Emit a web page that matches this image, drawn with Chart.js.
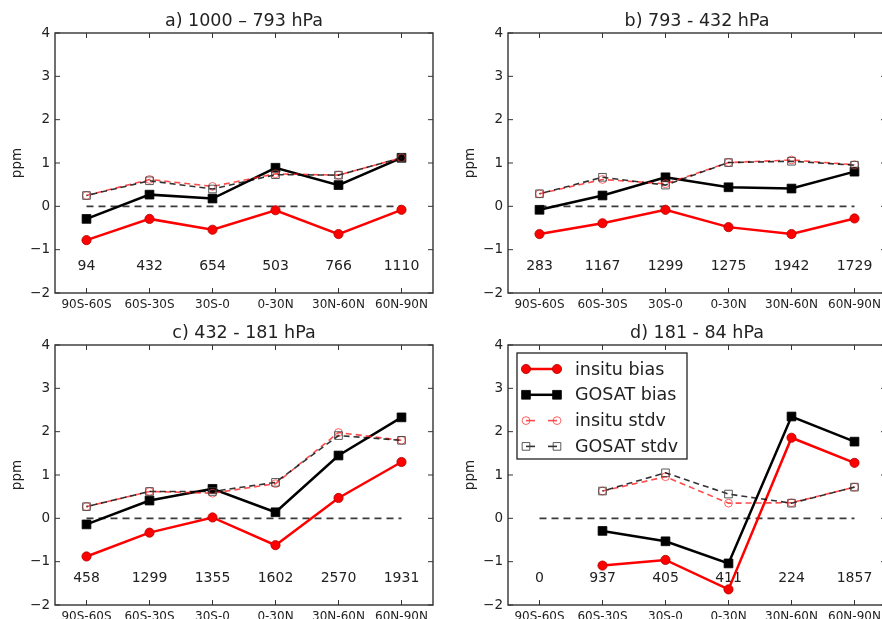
<!DOCTYPE html>
<html><head><meta charset="utf-8">
<script src="https://cdn.jsdelivr.net/npm/chart.js@4"></script>
<style>
html,body{margin:0;padding:0;background:#fff;overflow:hidden;width:882px;height:619px;}
.p{position:absolute;width:441px;height:310px;}
canvas{display:block;}
</style></head><body>
<div class="p" style="left:0;top:0"><canvas id="ca" width="441" height="310"></canvas></div>
<div class="p" style="left:453px;top:0"><canvas id="cb" width="441" height="310"></canvas></div>
<div class="p" style="left:0;top:312px"><canvas id="cc" width="441" height="310"></canvas></div>
<div class="p" style="left:453px;top:312px"><canvas id="cd" width="441" height="310"></canvas></div>
<script>
// ---------- data ----------
const categories = ['90S-60S','60S-30S','30S-0','0-30N','30N-60N','60N-90N'];
const titles = ['a) 1000 \u2013 793 hPa','b) 793 - 432 hPa','c) 432 - 181 hPa','d) 181 - 84 hPa'];
const seriesNames = ['insitu bias','GOSAT bias','insitu stdv','GOSAT stdv'];
const yTicks = [-2,-1,0,1,2,3,4];
const zeroLine = [0,0,0,0,0,0];

const insituBiasA = [-0.78,-0.29,-0.54,-0.09,-0.64,-0.08];
const gosatBiasA  = [-0.29,0.27,0.18,0.89,0.49,1.12];
const insituStdvA = [0.25,0.62,0.46,0.75,0.72,1.12];
const gosatStdvA  = [0.25,0.59,0.40,0.73,0.72,1.12];
const countsA = [94,432,654,503,766,1110];

const insituBiasB = [-0.64,-0.39,-0.08,-0.48,-0.64,-0.28];
const gosatBiasB  = [-0.08,0.25,0.67,0.44,0.41,0.80];
const insituStdvB = [0.29,0.62,0.52,1.01,1.07,0.96];
const gosatStdvB  = [0.29,0.67,0.49,1.01,1.04,0.95];
const countsB = [283,1167,1299,1275,1942,1729];

const insituBiasC = [-0.88,-0.33,0.02,-0.62,0.47,1.30];
const gosatBiasC  = [-0.14,0.41,0.68,0.14,1.45,2.33];
const insituStdvC = [0.27,0.62,0.58,0.80,1.98,1.80];
const gosatStdvC  = [0.27,0.62,0.62,0.83,1.91,1.80];
const countsC = [458,1299,1355,1602,2570,1931];

const insituBiasD = [null,-1.09,-0.96,-1.64,1.86,1.28];
const gosatBiasD  = [null,-0.29,-0.53,-1.04,2.35,1.77];
const insituStdvD = [null,0.63,0.96,0.35,0.36,0.72];
const gosatStdvD  = [null,0.63,1.05,0.56,0.35,0.72];
const countsD = [0,937,405,411,224,1857];

const COUNT_LEVEL = -1.38;

// ---------- styles ----------
const FONT = 'DejaVu Sans';
const TXT = '#222';
const STY = [
  {color:'#ff0000', fill:'#ff0000', edge:'#b00000', style:'circle', r:4.6, lw:2.5, dash:[], bw:0.8},
  {color:'#000000', fill:'#000000', edge:'#000000', style:'rect', r:6.2, lw:2.5, dash:[], bw:0.8},
  {color:'rgba(255,30,30,0.8)', fill:'rgba(255,255,255,0)', edge:'rgba(255,60,60,0.8)', style:'circle', r:3.9, lw:1.6, dash:[6,4], bw:1},
  {color:'rgba(0,0,0,0.8)', fill:'rgba(255,255,255,0)', edge:'rgba(60,60,60,0.85)', style:'rect', r:5.4, lw:1.6, dash:[6,4], bw:1}
];

function mkDatasets(series){
  const ds = [{data:zeroLine, borderColor:'#3a3a3a', borderWidth:1.7, borderDash:[7,5], pointRadius:0, order:10}];
  series.forEach((d,i)=>{
    const s = STY[i];
    ds.push({label:seriesNames[i], data:d, borderColor:s.color, backgroundColor:s.fill,
      borderWidth:s.lw, borderDash:s.dash, borderDashOffset: i===3?5:0,
      pointStyle:s.style, pointRadius:s.r, pointBorderColor:s.edge, pointBackgroundColor:s.fill,
      pointBorderWidth:s.bw, spanGaps:false, tension:0, order:4-i});
  });
  return ds;
}

function line(ctx,x1,y1,x2,y2){ctx.beginPath();ctx.moveTo(x1,y1);ctx.lineTo(x2,y2);ctx.stroke();}

function drawMarker(ctx, s, x, y){
  ctx.save();
  ctx.setLineDash([]);
  ctx.lineWidth = s.bw;
  ctx.strokeStyle = s.edge; ctx.fillStyle = s.fill;
  ctx.beginPath();
  if (s.style==='circle') ctx.arc(x,y,s.r,0,Math.PI*2);
  else { const h = s.r*Math.SQRT1_2; ctx.rect(x-h,y-h,2*h,2*h); }
  ctx.fill(); ctx.stroke();
  ctx.restore();
}

const panelPlugin = {
  id:'panel',
  beforeDatasetsDraw(chart, args, opts){
    const {ctx, scales:{x,y}} = chart;
    ctx.save();
    ctx.fillStyle = TXT; ctx.font = '14px "'+FONT+'"';
    ctx.textAlign='center'; ctx.textBaseline='middle';
    opts.counts.forEach((c,i)=>{ ctx.fillText(String(c), x.getPixelForValue(i), y.getPixelForValue(COUNT_LEVEL)); });
    ctx.restore();
  },
  afterDraw(chart, args, opts){
    const {ctx, chartArea:a, scales:{x,y}} = chart;
    ctx.save();
    // title
    ctx.fillStyle = TXT; ctx.font = '17.5px "'+FONT+'"';
    ctx.textAlign='center'; ctx.textBaseline='alphabetic';
    ctx.fillText(opts.title, (a.left+a.right)/2, a.top-7);
    // frame
    ctx.strokeStyle='#333'; ctx.lineWidth=1.4; ctx.setLineDash([]);
    ctx.strokeRect(a.left, a.top, a.right-a.left, a.bottom-a.top);
    // inward ticks
    ctx.lineWidth=1; const L=5;
    x.ticks.forEach((t,i)=>{ const px=x.getPixelForTick(i); line(ctx,px,a.bottom,px,a.bottom-L); line(ctx,px,a.top,px,a.top+L); });
    y.ticks.forEach((t,i)=>{ const py=y.getPixelForTick(i); line(ctx,a.left,py,a.left+L,py); line(ctx,a.right,py,a.right-L,py); });
    // legend
    if (opts.legend){
      const bx=a.left+9, by=a.top+8, bw=170, bh=106;
      ctx.fillStyle='#fff'; ctx.fillRect(bx,by,bw,bh);
      ctx.strokeStyle='#222'; ctx.lineWidth=1.3; ctx.strokeRect(bx,by,bw,bh);
      ctx.font='17.5px "'+FONT+'"'; ctx.textAlign='left'; ctx.textBaseline='middle';
      seriesNames.forEach((n,i)=>{
        const s=STY[i]; const ry=by+16+i*25.8; const x1=bx+9, x2=bx+40;
        ctx.save(); ctx.strokeStyle=s.color; ctx.lineWidth=s.lw; ctx.setLineDash(s.dash);
        if (s.dash.length){ ctx.setLineDash([]); line(ctx,x1,ry,x1+9,ry); line(ctx,x2-9,ry,x2,ry); }
        else line(ctx,x1,ry,x2,ry);
        ctx.restore();
        drawMarker(ctx,s,x1,ry); drawMarker(ctx,s,x2,ry);
        ctx.fillStyle=TXT; ctx.fillText(n,bx+58,ry+1);
      });
    }
    ctx.restore();
  }
};

function makeChart(id, series, counts, title, legend){
  return new Chart(document.getElementById(id), {
    type:'line',
    data:{labels:categories, datasets:mkDatasets(series)},
    plugins:[panelPlugin],
    options:{
      responsive:false, animation:false, events:[],
      layout:{padding:{top:33,right:8,left:0,bottom:0}},
      plugins:{legend:{display:false}, tooltip:{enabled:false}, title:{display:false},
        panel:{counts, title, legend}},
      scales:{
        x:{type:'category', offset:true,
           grid:{display:false, drawTicks:false}, border:{display:false},
           ticks:{color:TXT, font:{family:FONT, size:12}, padding:5, maxRotation:0, autoSkip:false},
           afterFit(s){ s.height=17; }},
        y:{min:-2, max:4, afterBuildTicks(s){ s.ticks = yTicks.map(v=>({value:v})); },
           grid:{display:false, drawTicks:false}, border:{display:false},
           ticks:{color:TXT, font:{family:FONT, size:13.5}, padding:5,
             callback:v=>String(v).replace('-','\u2212')},
           title:{display:true, text:'ppm', color:TXT, font:{family:FONT, size:13.5}, padding:{top:9,bottom:0}},
           afterFit(s){ s.width=55; }}
      }
    }
  });
}

makeChart('ca',[insituBiasA,gosatBiasA,insituStdvA,gosatStdvA],countsA,titles[0],false);
makeChart('cb',[insituBiasB,gosatBiasB,insituStdvB,gosatStdvB],countsB,titles[1],false);
makeChart('cc',[insituBiasC,gosatBiasC,insituStdvC,gosatStdvC],countsC,titles[2],false);
makeChart('cd',[insituBiasD,gosatBiasD,insituStdvD,gosatStdvD],countsD,titles[3],true);
</script>
</body></html>
